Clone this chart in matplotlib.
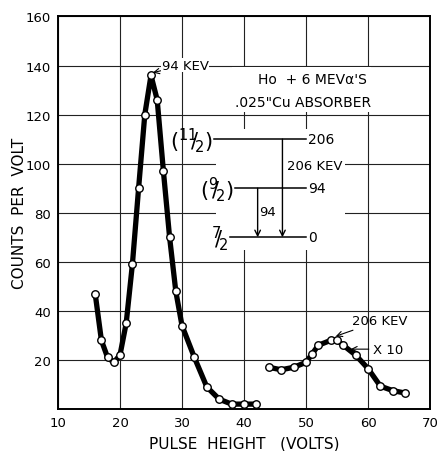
import matplotlib
matplotlib.use("Agg")
import matplotlib.pyplot as plt
from matplotlib.patches import Rectangle

# main peak (94 keV)
main_x = [16, 17, 18, 19, 20, 21, 22, 23, 24, 25, 26, 27, 28, 29, 30, 32, 34, 36, 38, 40, 42]
main_y = [47, 28, 21, 19, 22, 35, 59, 90, 120, 136, 126, 97, 70, 48, 34, 21, 9, 4, 2, 2, 2]

# 206 keV peak, scaled x10
x10_x = [44, 46, 48, 50, 51, 52, 54, 55, 56, 58, 60, 62, 64, 66]
x10_y = [17, 16, 17, 19, 22.5, 26, 28, 28, 26, 22, 16.5, 9.3, 7.5, 6.5]

x_ticks = [10, 20, 30, 40, 50, 60, 70]
y_ticks = [20, 40, 60, 80, 100, 120, 140, 160]

# level scheme (energies in keV)
level_energy = ["206", "94", "0"]
level_spin = [r"$(^{11}\!\!/\!_{2})$", r"$(^{9}\!\!/\!_{2})$", r"$^{7}\!\!/\!_{2}$"]
level_y = [110, 90, 70]
level_x0 = [35.2, 38.5, 37.7]
level_x1 = 50.0

plt.rcParams["font.family"] = "DejaVu Sans"

fig = plt.figure(figsize=(4.37, 4.52), dpi=100)
ax = fig.add_axes([0.1327, 0.0929, 0.8513, 0.8684])

ax.set_xlim(10, 70)
ax.set_ylim(0, 160)
ax.set_xticks(x_ticks)
ax.set_yticks(y_ticks)
ax.tick_params(length=0, labelsize=9.5, pad=5)
ax.grid(True, color="#222222", lw=0.8)
ax.set_axisbelow(True)
for s in ax.spines.values():
    s.set_linewidth(1.4)

ax.set_xlabel("PULSE  HEIGHT   (VOLTS)", fontsize=11, labelpad=5)
ax.set_ylabel("COUNTS  PER  VOLT", fontsize=11, labelpad=-1)

# blank out grid behind the level diagram and title text
ax.add_patch(Rectangle((35.5, 65), 20.8, 49, facecolor="white", edgecolor="none", zorder=1))
ax.add_patch(Rectangle((38.0, 121), 22.5, 18.3, facecolor="white", edgecolor="none", zorder=1))

ax.plot(main_x, main_y, color="black", lw=3.8, solid_joinstyle="round", solid_capstyle="round",
        marker="o", ms=5.4, mfc="white", mec="black", mew=1.0, zorder=3)
ax.plot(x10_x, x10_y, color="black", lw=3.8, solid_joinstyle="round", solid_capstyle="round",
        marker="o", ms=5.4, mfc="white", mec="black", mew=1.0, zorder=3)

ax.text(51.0, 134.5, "Ho  + 6 MEV\u03b1'S", fontsize=10, ha="center", va="center", zorder=4)
ax.text(49.5, 125.3, '.025"Cu ABSORBER', fontsize=10, ha="center", va="center", zorder=4)

# level scheme
for y, x0, e, sp in zip(level_y, level_x0, level_energy, level_spin):
    ax.plot([x0, level_x1], [y, y], color="black", lw=1.1, zorder=4)
    ax.text(level_x1 + 0.3, y, e, fontsize=10, ha="left", va="center", zorder=4)
    ax.text(x0 - 0.2, y, sp, fontsize=15, ha="right", va="center", zorder=4)

ax.annotate("", xy=(46.2, level_y[2]), xytext=(46.2, level_y[0]),
            arrowprops=dict(arrowstyle="->", lw=1.0, color="black", shrinkA=0, shrinkB=0), zorder=4)
ax.annotate("", xy=(42.2, level_y[2]), xytext=(42.2, level_y[1]),
            arrowprops=dict(arrowstyle="->", lw=1.0, color="black", shrinkA=0, shrinkB=0), zorder=4)
ax.text(47.0, 99.3, "206 KEV", fontsize=9.5, ha="left", va="center", zorder=4,
        bbox=dict(facecolor="white", edgecolor="none", pad=0.5))
ax.text(42.5, 80.5, "94", fontsize=9.5, ha="left", va="center", zorder=4)

# peak labels
ax.annotate("94 KEV", xy=(25.1, 137), xytext=(26.7, 140.2), fontsize=9.5, va="center", ha="left",
            bbox=dict(facecolor="white", edgecolor="none", pad=0.5),
            arrowprops=dict(arrowstyle="->", lw=0.8, color="black", shrinkA=0, shrinkB=1), zorder=5)
ax.annotate("206 KEV", xy=(54.6, 29.5), xytext=(57.4, 35.9), fontsize=9.5, va="center", ha="left",
            arrowprops=dict(arrowstyle="->", lw=0.8, color="black", shrinkA=0, shrinkB=1), zorder=5)
ax.annotate("X 10", xy=(57.2, 24.4), xytext=(60.8, 24.4), fontsize=9.5, va="center", ha="left",
            arrowprops=dict(arrowstyle="->", lw=0.8, color="black", shrinkA=1, shrinkB=0), zorder=5)

fig.savefig("out.png", dpi=100)
